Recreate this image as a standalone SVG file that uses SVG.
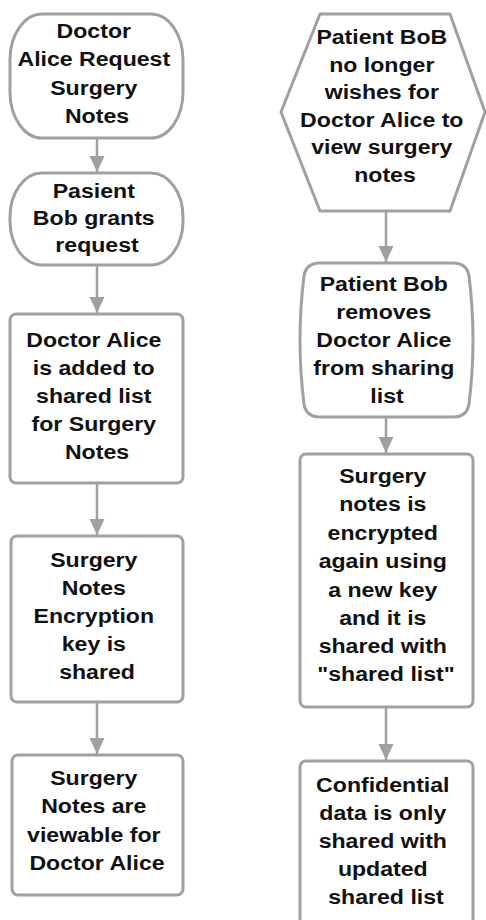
<svg xmlns="http://www.w3.org/2000/svg" width="486" height="920" viewBox="0 0 486 920">
  <style>
    .box { fill: #ffffff; stroke: #a0a0a0; stroke-width: 3; stroke-linejoin: round; }
    .edge { fill: none; stroke: #a0a0a0; stroke-width: 2.5; }
    .t { font-family: "Liberation Sans", Arial, sans-serif; font-weight: bold; font-size: 21px; fill: #111111; text-anchor: middle; }
  </style>
  <defs>
    <marker id="arrow" markerUnits="userSpaceOnUse" markerWidth="16" markerHeight="18" refX="16" refY="7.5" orient="auto">
      <path d="M0,0 L16,7.5 L0,15 Z" fill="#a0a0a0"/>
    </marker>
  </defs>
  <rect width="486" height="920" fill="#ffffff"/>

  <!-- connectors -->
  <g id="connectors">
    <path class="edge" d="M97,138 V172" marker-end="url(#arrow)"/>
    <path class="edge" d="M97,265 V313" marker-end="url(#arrow)"/>
    <path class="edge" d="M97,483 V535" marker-end="url(#arrow)"/>
    <path class="edge" d="M97,702 V754" marker-end="url(#arrow)"/>
    <path class="edge" d="M386,212 V262" marker-end="url(#arrow)"/>
    <path class="edge" d="M386,418 V453" marker-end="url(#arrow)"/>
    <path class="edge" d="M386,707 V760" marker-end="url(#arrow)"/>
  </g>

  <!-- left column -->
  <g id="request">
    <rect class="box" x="10" y="14" width="173" height="124" rx="32" ry="46"/>
    <text class="t" transform="translate(97 0) scale(1.1 1)">
      <tspan x="0" y="38">Doctor</tspan>
      <tspan x="0" y="66.5">Alice Request</tspan>
      <tspan x="0" y="95">Surgery</tspan>
      <tspan x="0" y="123">Notes</tspan>
    </text>
  </g>

  <g id="grant">
    <rect class="box" x="10" y="173" width="173" height="92" rx="32" ry="44"/>
    <text class="t" transform="translate(97 0) scale(1.1 1)">
      <tspan x="0" y="198">Pasient</tspan>
      <tspan x="0" y="225">Bob grants</tspan>
      <tspan x="0" y="252">request</tspan>
    </text>
  </g>

  <g id="added">
    <rect class="box" x="10" y="314" width="173" height="169" rx="6"/>
    <text class="t" transform="translate(97 0) scale(1.1 1)">
      <tspan x="0" y="347">Doctor Alice</tspan>
      <tspan x="0" y="375">is added to</tspan>
      <tspan x="0" y="403">shared list</tspan>
      <tspan x="0" y="431">for Surgery</tspan>
      <tspan x="0" y="459">Notes</tspan>
    </text>
  </g>

  <g id="keyshared">
    <rect class="box" x="11" y="536" width="172" height="166" rx="6"/>
    <text class="t" transform="translate(97 0) scale(1.1 1)">
      <tspan x="0" y="567">Surgery</tspan>
      <tspan x="0" y="595">Notes</tspan>
      <tspan x="0" y="623">Encryption</tspan>
      <tspan x="0" y="651">key is</tspan>
      <tspan x="0" y="679">shared</tspan>
    </text>
  </g>

  <g id="viewable">
    <rect class="box" x="12" y="755" width="171" height="140" rx="6"/>
    <text class="t" transform="translate(97 0) scale(1.1 1)">
      <tspan x="0" y="785">Surgery</tspan>
      <tspan x="0" y="813">Notes are</tspan>
      <tspan x="0" y="842">viewable for</tspan>
      <tspan x="0" y="870">Doctor Alice</tspan>
    </text>
  </g>

  <!-- right column -->
  <g id="revoke">
    <path class="box" d="M320,14 L450,14 L485,112 L450,211 L320,211 L281,112 Z"/>
    <text class="t" transform="translate(385 0) scale(1.1 1)">
      <tspan x="0" y="44">Patient BoB</tspan>
      <tspan x="0" y="72">no longer</tspan>
      <tspan x="0" y="99.5">wishes for</tspan>
      <tspan x="0" y="127">Doctor Alice to</tspan>
      <tspan x="0" y="154.5">view surgery</tspan>
      <tspan x="0" y="182">notes</tspan>
    </text>
  </g>

  <g id="remove">
    <path class="box" d="M320,263 H453 Q467,263 469,276 Q477,340 469,404 Q467,417 453,417 H320 Q306,417 304,404 Q296,340 304,276 Q306,263 320,263 Z"/>
    <text class="t" transform="translate(387 0) scale(1.1 1)">
      <tspan x="0" y="291">Patient Bob</tspan>
      <tspan x="0" y="319">removes</tspan>
      <tspan x="0" y="347">Doctor Alice</tspan>
      <tspan x="0" y="375">from sharing</tspan>
      <tspan x="0" y="403">list</tspan>
    </text>
  </g>

  <g id="reencrypt">
    <rect class="box" x="300" y="454" width="173" height="253" rx="6"/>
    <text class="t" transform="translate(386 0) scale(1.1 1)">
      <tspan x="0" y="483">Surgery</tspan>
      <tspan x="0" y="511">notes is</tspan>
      <tspan x="0" y="540">encrypted</tspan>
      <tspan x="0" y="568">again using</tspan>
      <tspan x="0" y="597">a new key</tspan>
      <tspan x="0" y="625">and it is</tspan>
      <tspan x="0" y="653">shared with</tspan>
      <tspan x="0" y="681">"shared list"</tspan>
    </text>
  </g>

  <g id="confidential">
    <rect class="box" x="300" y="761" width="173" height="175" rx="6"/>
    <text class="t" transform="translate(386 0) scale(1.1 1)">
      <tspan x="0" y="792">Confidential</tspan>
      <tspan x="0" y="820">data is only</tspan>
      <tspan x="0" y="848">shared with</tspan>
      <tspan x="0" y="876">updated</tspan>
      <tspan x="0" y="904">shared list</tspan>
    </text>
  </g>
</svg>
